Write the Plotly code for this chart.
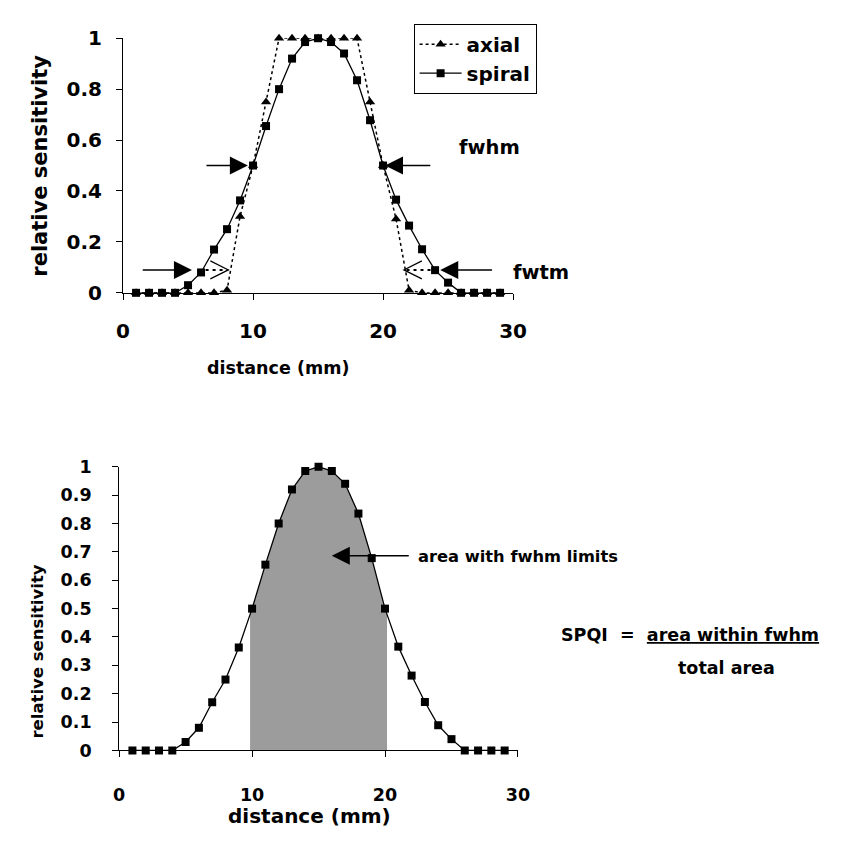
import numpy as np
import plotly.graph_objects as go

# ---- data -------------------------------------------------------------
distance = list(range(1, 30))  # mm
axial = [0, 0, 0, 0, 0, 0, 0, 0.01, 0.30, 0.5, 0.75, 1, 1, 1, 1, 1, 1, 1,
         0.75, 0.5, 0.29, 0.01, 0, 0, 0, 0, 0, 0, 0]
spiral = [0, 0, 0, 0, 0.03, 0.08, 0.17, 0.25, 0.363, 0.5, 0.655, 0.8, 0.92,
          0.985, 1, 0.985, 0.94, 0.835, 0.678, 0.5, 0.366, 0.264, 0.171,
          0.089, 0.04, 0, 0, 0, 0]
x_ticks = [0, 10, 20, 30]
fwhm_limits = [9.85, 20.15]

# arrow annotations: (tip x, tail x) at a given sensitivity level
fwhm_level = 0.5
fwhm_arrows = [(9.6, 6.3), (20.15, 23.75)]
fwtm_level = 0.09
fwtm_arrows = [(5.3, 1.4), (24.4, 28.5)]
fwtm_dotted = [(6.35, 8.1), (23.65, 21.6)]  # (start x, open-head x)
area_arrow = (16.0, 21.9, 0.686)

FONT = "DejaVu Sans, Verdana, sans-serif"
W, H = 843, 848


def px(x):
    return x / W


def py(y):
    return 1 - y / H


fig = go.Figure()

# ---- top panel: axial vs spiral -------------------------------------
fig.add_trace(go.Scatter(
    x=distance, y=axial, name="axial", mode="lines+markers",
    line=dict(color="black", width=1.5, dash="3px,3px"),
    marker=dict(symbol="triangle-up", size=9, color="black"),
    cliponaxis=False, xaxis="x", yaxis="y", hoverinfo="skip"))
fig.add_trace(go.Scatter(
    x=distance, y=spiral, name="spiral", mode="lines+markers",
    line=dict(color="black", width=1.3),
    marker=dict(symbol="square", size=8, color="black"),
    cliponaxis=False, xaxis="x", yaxis="y", hoverinfo="skip"))

# ---- bottom panel: area inside the fwhm limits ---------------------
lo, hi = fwhm_limits
shade_x = [lo] + [d for d in distance if lo < d < hi] + [hi]
shade_y = list(np.interp(shade_x, distance, spiral))
fig.add_trace(go.Scatter(
    x=shade_x, y=shade_y, fill="tozeroy", fillcolor="#9c9c9c", mode="none",
    xaxis="x2", yaxis="y2", showlegend=False, hoverinfo="skip"))
fig.add_trace(go.Scatter(
    x=distance, y=spiral, mode="lines+markers",
    line=dict(color="black", width=1.3),
    marker=dict(symbol="square", size=8, color="black"),
    cliponaxis=False, xaxis="x2", yaxis="y2", showlegend=False,
    hoverinfo="skip"))


def axis_style(size, standoff, **kw):
    return dict(
        showline=True, linecolor="black", linewidth=1, ticks="outside",
        ticklen=6, tickwidth=1, tickcolor="black", showgrid=False,
        zeroline=False, fixedrange=True, ticklabelstandoff=standoff,
        tickfont=dict(family=FONT, size=size, color="black", weight="bold"),
        **kw)


fig.update_layout(
    width=W, height=H, autosize=False,
    margin=dict(l=0, r=0, t=0, b=0),
    paper_bgcolor="white", plot_bgcolor="rgba(0,0,0,0)",
    xaxis=axis_style(20, 14, domain=[px(119), px(519)], range=[0, 30],
                     tickvals=x_ticks, anchor="y"),
    yaxis=axis_style(20, 10, domain=[py(289), py(27)], range=[0, 1],
                     dtick=0.2, anchor="x"),
    xaxis2=axis_style(17.5, 23, domain=[px(115), px(524)], range=[0, 30],
                      tickvals=x_ticks, anchor="y2"),
    yaxis2=axis_style(17.5, 17, domain=[py(760), py(468)], range=[0, 1],
                      dtick=0.1, anchor="x2"),
    legend=dict(x=px(417), y=py(12), xanchor="left", yanchor="top",
                bordercolor="black", borderwidth=1, bgcolor="white",
                font=dict(family=FONT, size=20, color="black", weight="bold"),
                tracegroupgap=0, itemwidth=42),
    showlegend=True,
)


def label(text, x, y, size, xanchor="center", angle=0):
    fig.add_annotation(
        text=text, x=px(x), y=py(y), xref="paper", yref="paper",
        xanchor=xanchor, yanchor="middle", showarrow=False, textangle=angle,
        font=dict(family=FONT, size=size, color="black", weight="bold"))


# axis titles
label("relative sensitivity", 33, 158, 21, angle=-90)
label("distance (mm)", 278, 366, 17.5)
label("relative sensitivity", 31, 658, 16.5, angle=-90)
label("distance (mm)", 310, 827, 20)

# callout texts
label("fwhm", 495, 139, 19.5)
label("fwtm", 548, 268, 19.5)
label("area with fwhm limits", 419, 560, 16.3, xanchor="left")
label("SPQI  =  <u>area within fwhm</u>", 566, 641, 17.5, xanchor="left")
label("total area", 738, 675, 17.5)


def arrow(tip, tail, level, xref, yref):
    fig.add_annotation(
        x=tip, y=level, ax=tail, ay=level, xref=xref, yref=yref,
        axref=xref, ayref=yref, text="", showarrow=True, arrowhead=2,
        arrowsize=2.4, arrowwidth=1.5, arrowcolor="black", standoff=0)


for tip, tail in fwhm_arrows:
    arrow(tip, tail, fwhm_level, "x", "y")
for tip, tail in fwtm_arrows:
    arrow(tip, tail, fwtm_level, "x", "y")
arrow(area_arrow[0], area_arrow[1], area_arrow[2], "x2", "y2")

# dotted fwtm leaders with open heads pointing at the axial curve
for start, head in fwtm_dotted:
    fig.add_shape(type="line", x0=start, x1=head, y0=fwtm_level,
                  y1=fwtm_level, xref="x", yref="y",
                  line=dict(color="black", width=2, dash="3px,4px"))
    sgn = -1 if head > start else 1
    fig.add_shape(type="path", xref="x", yref="y",
                  xsizemode="pixel", ysizemode="pixel",
                  xanchor=head, yanchor=fwtm_level,
                  path=f"M{18 * sgn},9 L0,0 L{18 * sgn},-9",
                  line=dict(color="black", width=1.2))

fig.write_html("out.html")
